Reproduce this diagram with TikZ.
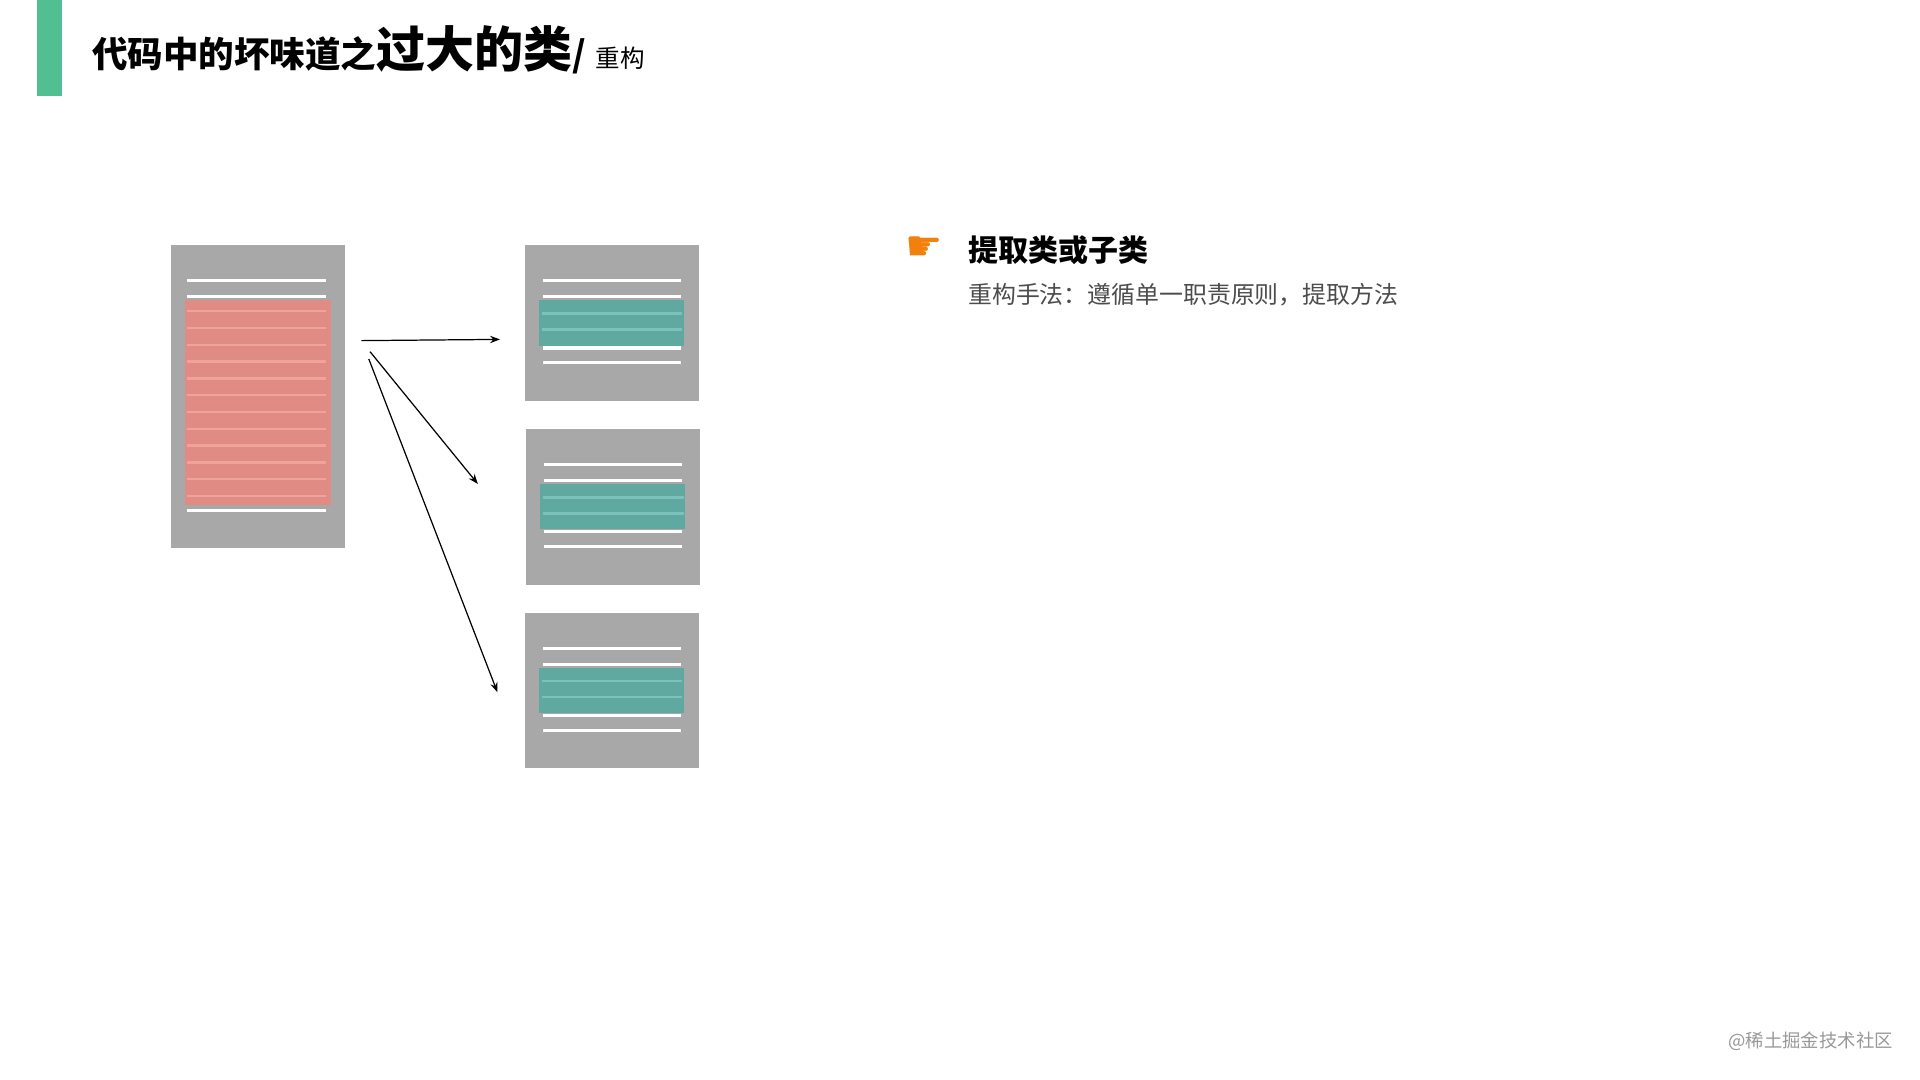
\documentclass[tikz,border=0pt]{standalone}
\usepackage{fontspec}
\setmainfont{Noto Sans CJK SC}
\newfontfamily\symfont{DejaVu Sans}
\usetikzlibrary{positioning,arrows.meta}
\definecolor{barGreen}{HTML}{52BF93}
\definecolor{docGray}{HTML}{A8A8A8}
\definecolor{redBlock}{HTML}{E08B84}
\definecolor{redLine}{HTML}{F0A39B}
\definecolor{tealBlock}{HTML}{5FA9A1}
\definecolor{tealLine}{HTML}{7CC2BA}
\tikzset{
  doc/.style={fill=docGray,draw=none,minimum width=142pt,inner sep=0pt},
  wline/.style={draw=white,line width=2.5pt},
  rline/.style={draw=redLine,line width=2pt},
  tline/.style={draw=tealLine,line width=2pt},
  arr/.style={-{Stealth[length=8pt,width=6pt]},line width=1pt}
}
\begin{document}
\begin{tikzpicture}[x=1pt,y=-1pt]
\useasboundingbox (0,0) rectangle (1567,881);
\fill[white] (0,0) rectangle (1567,881);
% title
\fill[barGreen] (30,0) rectangle (51,78);
\node[anchor=base west,inner sep=0pt] (title) at (75,55)
  {{\bfseries\fontsize{29}{32}\selectfont 代码中的坏味道之{\fontsize{40}{44}\selectfont 过大的类}/}\hspace{8pt}{\fontsize{20}{22}\selectfont 重构}};

% big class
\node[doc,minimum height=247pt,anchor=north west] (big) at (139,200) {};
\fill[redBlock] (151,245) rectangle (270,412);
\foreach \y in {229,242,417} \draw[wline] (153,\y) -- (266,\y);
\foreach \i in {0,...,11} \draw[rline] (153,254+13.7*\i) -- (266,254+13.7*\i);

% small classes
\foreach \n/\x/\y in {one/428/200,two/429/350,three/428/500}{
  \node[doc,minimum height=127pt,anchor=north west] (\n) at (\x,\y) {};
  \fill[tealBlock] (\x+12,\y+45) rectangle (\x+130,\y+82);
  \foreach \d in {29,42,84,96} \draw[wline] (\x+15,\y+\d) -- (\x+128,\y+\d);
  \foreach \d in {56,69} \draw[tline] (\x+14,\y+\d) -- (\x+129,\y+\d);
}

% arrows
\coordinate (s1) at (295,278);
\coordinate (s2) at (302,287);
\coordinate (s3) at (301,293);
\coordinate (e1) at (408,277);
\coordinate (e2) at (390,395);
\coordinate (e3) at (406,565);
\draw[arr] (s1) -- (e1);
\draw[arr] (s2) -- (e2);
\draw[arr] (s3) -- (e3);

% text
\node[anchor=west,inner sep=0pt,text=orange!80!brown] (hand) at (739,203)
  {\symfont\fontsize{34}{34}\selectfont ☛};
\node[anchor=west,inner sep=0pt] (head) at (790,204)
  {\bfseries\fontsize{24.5}{27}\selectfont 提取类或子类};
\node[anchor=north west,inner sep=0pt,text=black!70] (sub) at (790,231)
  {\fontsize{19.5}{22}\selectfont 重构手法：遵循单一职责原则，提取方法};
\node[anchor=east,inner sep=0pt,text=black!40] (mark) at (1545,850)
  {\fontsize{15}{16}\selectfont @稀土掘金技术社区};
\end{tikzpicture}
\end{document}
